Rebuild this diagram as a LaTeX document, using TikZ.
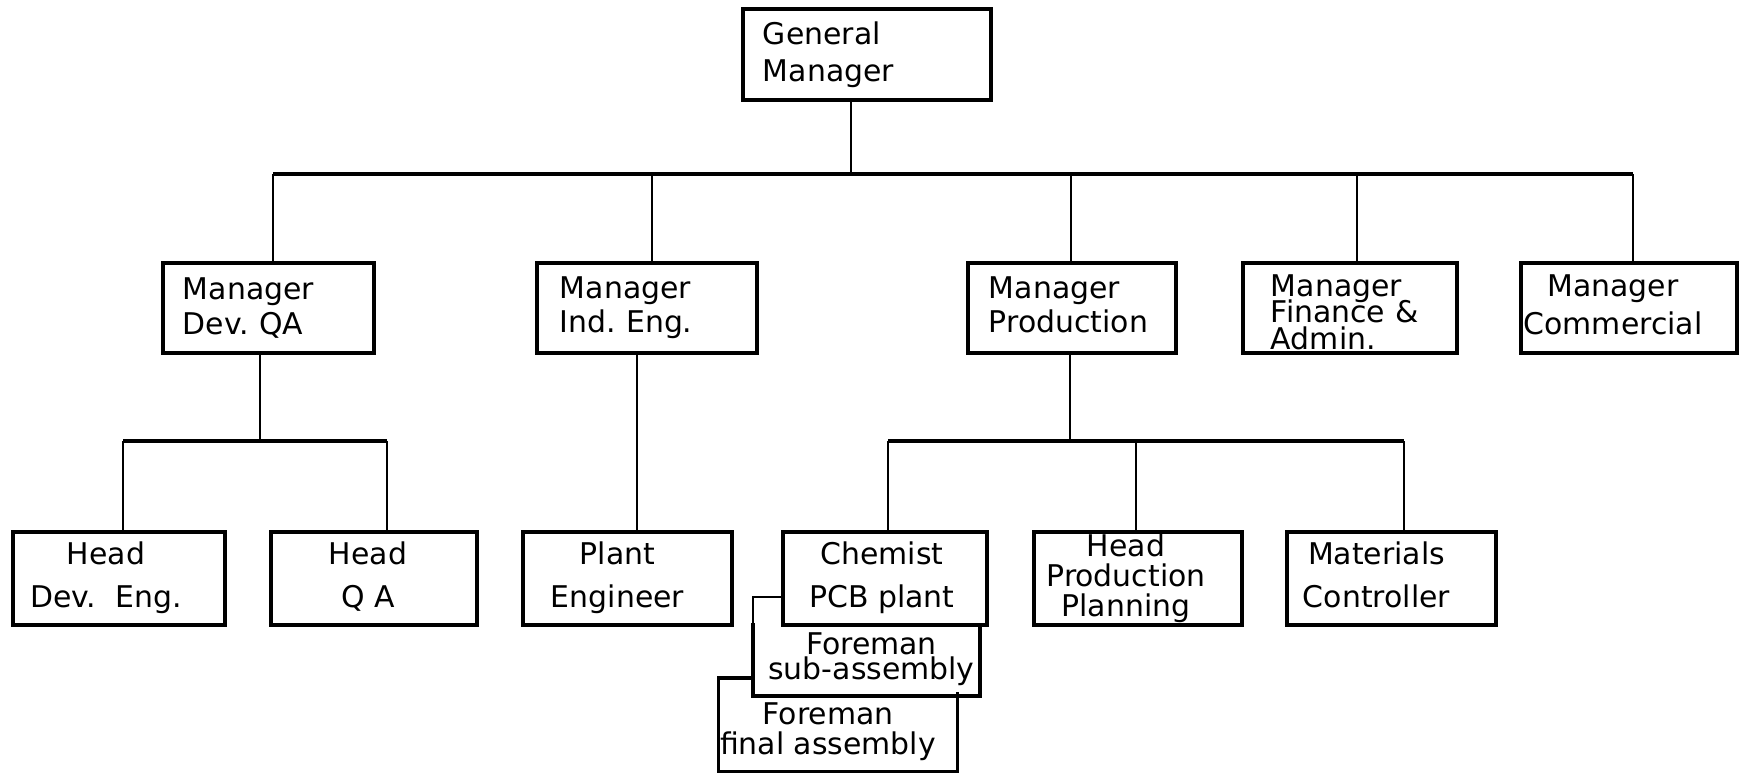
\documentclass[tikz,border=0pt]{standalone}
\usepackage{fontspec}
\setmainfont{DejaVu Sans}
\frenchspacing
% label font: fixed size, line spacing given per box and always kept exactly
\newcommand\lblfont[1]{\fontsize{8.5pt}{#1}\selectfont\lineskiplimit=-\maxdimen}
% centred block of lines (rows end with \cr); the trailing kern nudges it sideways
\newcommand\stack[2]{\vbox{\halign{\hfil##\hfil\cr#2\crcr}}\kern#1}
\begin{document}
\begin{tikzpicture}[x=0.01cm, y=-0.01cm,
  box/.style={draw, line width=1pt, inner sep=0pt},
  cbox/.style={box, text depth=2pt},
  open/.style={cbox, draw=none},
  sz/.style 2 args={minimum width=#1, minimum height=#2},
  lbox/.style 2 args={align=left, inner xsep=#1, text width=#2},
  frame/.style={line width=1pt},
  link/.style={line width=0.7pt},
  bar/.style={line width=1.1pt}]
\useasboundingbox (0,0) rectangle (1740,772);

% top
\node[box, sz={2.48cm}{0.91cm}, lbox={0.20cm}{2.08cm}, font=\lblfont{10.4pt}] (gm) at (867,54.5) {General\\Manager};

% managers
\node[box, sz={2.11cm}{0.90cm}, lbox={0.20cm}{1.71cm}, font=\lblfont{9.7pt}] (mdq) at (268.5,308) {Manager\\Dev. QA};
\node[box, sz={2.20cm}{0.90cm}, lbox={0.23cm}{1.74cm}, font=\lblfont{9.7pt}] (mie) at (647,308) {Manager\\Ind. Eng.};
\node[box, sz={2.08cm}{0.90cm}, lbox={0.21cm}{1.66cm}, font=\lblfont{9.7pt}] (mpr) at (1072,308) {Manager\\Production\vphantom{g}};
\node[box, sz={2.14cm}{0.90cm}, lbox={0.28cm}{1.58cm}, font=\lblfont{7.5pt}] (mfa) at (1350,308) {\rule{0pt}{0.3cm}Manager\\Finance \&\\Admin.};
\node[cbox, sz={2.16cm}{0.90cm}, font=\lblfont{10.6pt}] (mco) at (1629,308) {\stack{0.32cm}{Manager\cr Commercial}};

% heads
\node[cbox, sz={2.12cm}{0.93cm}, font=\lblfont{12.2pt}] (hde) at (119,578.5) {\stack{0.26cm}{Head\cr Dev.\ \ Eng.}};
\node[cbox, sz={2.06cm}{0.93cm}, font=\lblfont{12.2pt}] (hqa) at (374,578.5) {\stack{0.12cm}{Head\cr Q A}};
\node[cbox, sz={2.09cm}{0.93cm}, font=\lblfont{12.2pt}] (pen) at (627.5,578.5) {\stack{0.2cm}{Plant\cr Engineer}};
\node[cbox, sz={2.04cm}{0.93cm}, font=\lblfont{12.2pt}] (che) at (885,578.5) {\stack{0.06cm}{Chemist\cr PCB plant}};
\node[cbox, sz={2.08cm}{0.93cm}, font=\lblfont{8.6pt}] (hpp) at (1138,578.5) {\stack{0.24cm}{Head\cr Production\cr Planning}};
\node[cbox, sz={2.09cm}{0.93cm}, font=\lblfont{12.2pt}] (mct) at (1391.5,578.5) {\stack{0.3cm}{Materials\cr Controller}};

% foremen under the PCB plant: their tops are shared with the box above
\node[open, sz={2.23cm}{0.69cm}, font=\lblfont{6.9pt}] (fsa) at (866.5,659.5) {\stack{-0.1cm}{Foreman\cr sub-assembly}};
\node[open, sz={2.32cm}{0.76cm}, font=\lblfont{8.4pt}] (ffa) at (838,732) {\stack{0.2cm}{Foreman\cr final assembly}};
\draw[frame] (fsa.north east) -- (fsa.south east) -- (fsa.south west) -- (fsa.north west);
\draw[frame] (ffa.north east) -- (ffa.south east) -- (ffa.south west) -- (ffa.north west);

% first level
\coordinate (gmx) at (851,174);
\coordinate (xa) at (273,174);
\coordinate (xb) at (652,174);
\coordinate (xc) at (1071,174);
\coordinate (xd) at (1357,174);
\coordinate (xe) at (1633,174);
\draw[link] (gm.south -| gmx) -- (gmx);
\draw[bar] (xa) -- (xe);
\foreach \c/\n in {xa/mdq, xb/mie, xc/mpr, xd/mfa, xe/mco}
  \draw[link] (\c) -- (\c |- \n.north);

% Dev. QA branch
\coordinate (qa) at (260,441);
\coordinate (qb) at (123,441);
\coordinate (qc) at (387,441);
\draw[link] (mdq.south -| qa) -- (qa);
\draw[bar] (qb) -- (qc);
\draw[link] (qb) -- (qb |- hde.north);
\draw[link] (qc) -- (qc |- hqa.north);

% Ind. Eng. branch
\coordinate (pa) at (637,441);
\draw[link] (mie.south -| pa) -- (pen.north -| pa);

% Production branch
\coordinate (ra) at (1070,441);
\coordinate (rb) at (888,441);
\coordinate (rc) at (1136,441);
\coordinate (rd) at (1404,441);
\draw[link] (mpr.south -| ra) -- (ra);
\draw[bar] (rb) -- (rd);
\draw[link] (rb) -- (rb |- che.north);
\draw[link] (rc) -- (rc |- hpp.north);
\draw[link] (rd) -- (rd |- mct.north);

% foremen links
\coordinate (fy1) at (0,597);
\coordinate (fy2) at (0,678);
\draw[link] (che.west |- fy1) -| (fsa.north west);
\draw[frame] (fsa.west |- fy2) -| (ffa.north west);
\end{tikzpicture}
\end{document}
